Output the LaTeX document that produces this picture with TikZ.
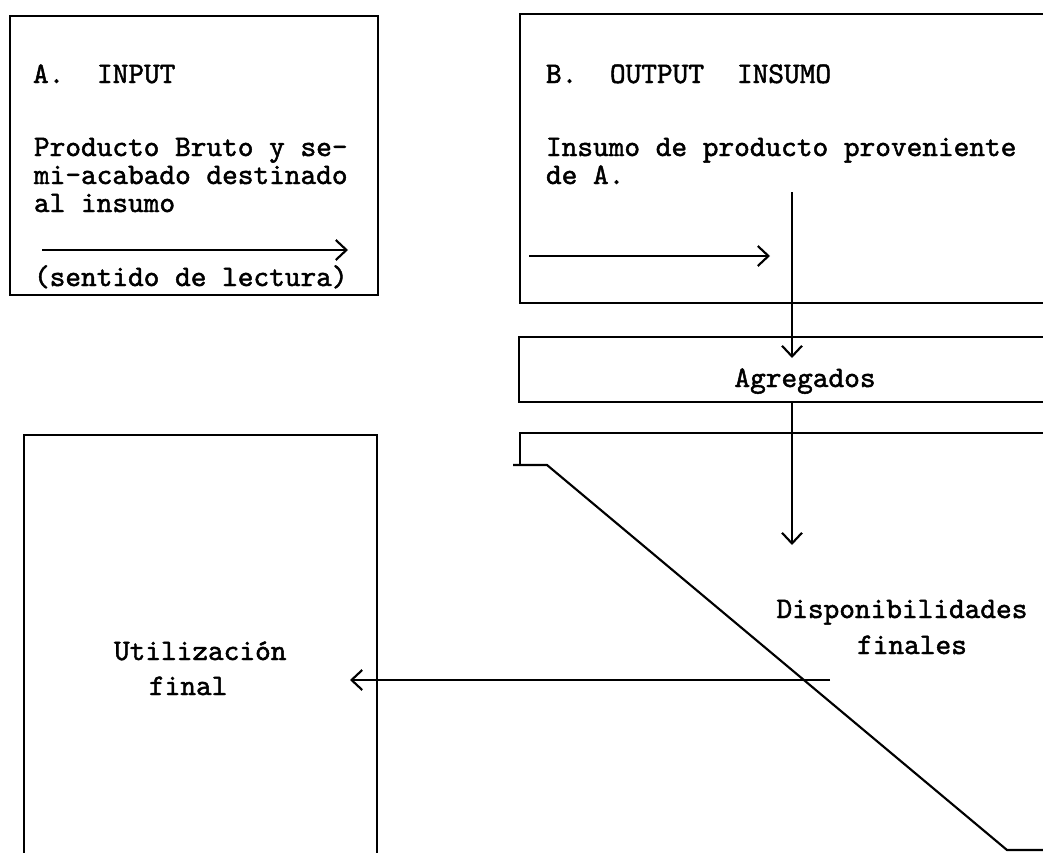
\documentclass[tikz,border=0pt]{standalone}
\usepackage{fontspec}
\setmonofont{lmmono10-regular.otf}[FakeBold=1.6]
\usetikzlibrary{arrows.meta}
\begin{document}
\begin{tikzpicture}[x=0.75pt,y=-0.75pt,line width=1.5pt,
  txt/.style={font=\ttfamily\fontsize{22.4}{24}\selectfont,inner sep=0pt,anchor=base west},
  ctxt/.style={txt,anchor=base},
  arr/.style={-{Straight Barb[length=8pt,width=15pt,line width=1.6pt]}},
  frame/.style={line width=1.6pt,line cap=butt}]
\useasboundingbox (0,0) rectangle (1043,853);
\fill[white] (0,0) rectangle (1043,853);

% Box A
\draw[frame] (10,16) rectangle (378,295);
\node[txt] (aA) at (32,83) {A.};
\node[txt] (aIn) at (96,83) {INPUT};
\node[txt] (a1) at (33,156) {Producto Bruto y se-};
\node[txt] (a2) at (33,184) {mi-acabado destinado};
\node[txt] (a3) at (33,212) {al insumo};
\node[txt] (a4) at (33,286) {(sentido de lectura)};
\coordinate (aS) at (42,250);
\coordinate (aE) at (348,250);
\draw[arr] (aS) -- (aE);

% Box B
\draw[frame] (1050,14) -- (520,14) -- (520,303) -- (1050,303);
\node[txt] (bB) at (545,83) {B.};
\node[txt] (bOut) at (609,83) {OUTPUT};
\node[txt] (bIns) at (736,83) {INSUMO};
\node[txt] (b1) at (545,156) {Insumo de producto proveniente};
\node[txt] (b2) at (545,184) {de A.};
\coordinate (bS) at (529,256);
\coordinate (bE) at (770,256);
\draw[arr] (bS) -- (bE);

% Agregados band
\draw[frame] (1050,337) -- (519,337) -- (519,402) -- (1050,402);
\node[ctxt] (agr) at (805,387) {Agregados};

% vertical flow
\coordinate (v1) at (792,192);
\coordinate (v1e) at (792,358);
\draw[arr] (v1) -- (v1e);
\coordinate (v2) at (792,402);
\coordinate (v2e) at (792,545);
\draw[arr] (v2) -- (v2e);

% lower right region with diagonal
\draw[frame] (1050,433) -- (520,433) -- (520,465);
\draw[frame] (513,465) -- (547,465) -- (1007,850) -- (1050,850);
\node[ctxt] (disp) at (902,618) {Disponibilidades};
\node[ctxt] (fin) at (912,654) {finales};

% Utilizacion final box
\draw[frame] (24,860) -- (24,435) -- (377,435) -- (377,860);
\node[txt] (util) at (113,660) {Utilización};
\node[txt] (ufin) at (148,695) {final};

% horizontal flow
\coordinate (h1) at (830,680);
\coordinate (h1e) at (350,680);
\draw[arr] (h1) -- (h1e);
\end{tikzpicture}
\end{document}
